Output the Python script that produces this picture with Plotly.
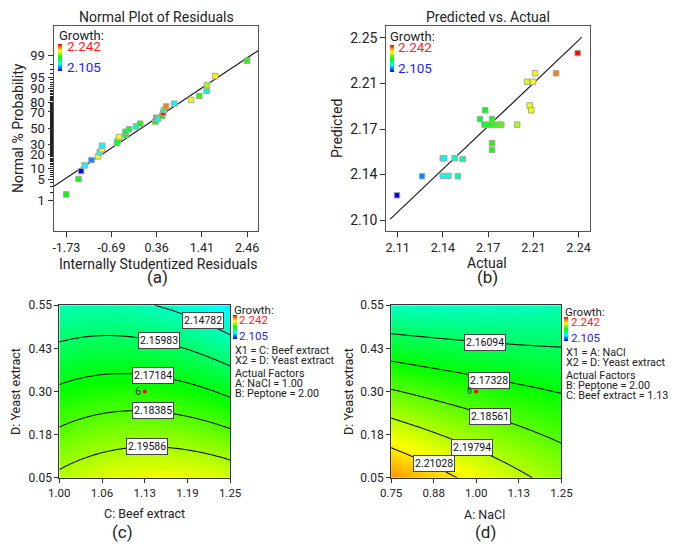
import numpy as np
import plotly.graph_objects as go
from statistics import NormalDist

W, H = 685, 551
FONT = "Roboto"
TXT = "#222222"

# ---------------- data ----------------
growth_min, growth_max = 2.105, 2.242
growth_scale = [[0.0, "#0000ff"], [0.25, "#00ffff"], [0.5, "#00ff00"],
                [0.75, "#ffff00"], [1.0, "#ff0000"]]

# (a) Normal plot of residuals
resid = [-1.734, -1.45, -1.39, -1.31, -1.15, -0.997, -0.96, -0.91, -0.90, -0.56,
         -0.54, -0.51, -0.36, -0.36, -0.28, -0.12, -0.02, 0.33, 0.35, 0.39,
         0.49, 0.51, 0.53, 0.58, 0.77, 1.16, 1.35, 1.52, 1.53, 1.72, 2.457]
resid_prob = [1.7, 5.2, 8.5, 11.7, 15.4, 18.4, 22.1, 25.1, 28.8, 31.9,
              34.5, 39.0, 41.7, 45.6, 48.8, 52.4, 56.0, 58.7, 63.3, 62.2,
              65.5, 69.1, 72.2, 75.8, 78.5, 81.9, 85.1, 88.5, 91.8, 95.3, 98.5]
resid_growth = [2.173, 2.173, 2.105, 2.140, 2.124, 2.207, 2.140, 2.208, 2.140, 2.170,
                2.170, 2.205, 2.170, 2.168, 2.167, 2.148, 2.175, 2.176, 2.228, 2.142,
                2.173, 2.241, 2.153, 2.225, 2.141, 2.206, 2.178, 2.147, 2.196, 2.209, 2.177]
a_line_resid = [-2.03, 2.72]
a_line_prob = [3.1, 99.38]
a_xticks = [-1.734, -0.686, 0.362, 1.409, 2.457]
a_xticktext = ["-1.73", "-0.69", "0.36", "1.41", "2.46"]
a_yticks_pct = [1, 5, 10, 20, 30, 50, 70, 80, 90, 95, 99]
a_minor_pct = list(range(1, 100))

# (b) Predicted vs actual
actual = [2.1045, 2.1235, 2.1392, 2.1403, 2.1482, 2.1542, 2.1392, 2.1435, 2.1506,
          2.1674, 2.1713, 2.1708, 2.1740, 2.1765, 2.1772, 2.1813, 2.1835, 2.1765,
          2.1765, 2.1955, 2.2030, 2.2076, 2.2091, 2.2050, 2.2062, 2.2250, 2.2413]
predicted = [2.1204, 2.1361, 2.1509, 2.1509, 2.1509, 2.1503, 2.1364, 2.1364, 2.1361,
             2.1832, 2.1904, 2.1786, 2.1786, 2.1832, 2.1786, 2.1786, 2.1786, 2.1632,
             2.1578, 2.1786, 2.2139, 2.2139, 2.2209, 2.1944, 2.1904, 2.2209, 2.2375]
b_line_actual = [2.0994, 2.2445]
b_line_pred = [2.1008, 2.2506]
b_xticks = [2.105, 2.13925, 2.1735, 2.20775, 2.242]
b_xticktext = ["2.11", "2.14", "2.17", "2.21", "2.24"]
b_yticks = [2.10, 2.1375, 2.175, 2.2125, 2.25]
b_yticktext = ["2.10", "2.14", "2.17", "2.21", "2.25"]

# (c) Beef extract x Yeast extract contour (coded quadratic model)
c_coef = {"b0": 2.1774, "bX": -0.0021, "bY": -0.02873, "bXY": -0.00437, "bXX": -0.0057, "bYY": 0.0}
c_x_range = [1.00, 1.25]
c_y_range = [0.05, 0.55]
c_levels = [2.14782, 2.15983, 2.17184, 2.18385, 2.19586]
c_label_x = [1.2098, 1.1462, 1.1368, 1.1368, 1.1283]
c_label_y = [0.5056, 0.4473, 0.3471, 0.2444, 0.1406]
c_xticks = [1.0, 1.0625, 1.125, 1.1875, 1.25]
c_xticktext = ["1.00", "1.06", "1.13", "1.19", "1.25"]
yeast_ticks = [0.05, 0.175, 0.30, 0.425, 0.55]
yeast_ticktext = ["0.05", "0.18", "0.30", "0.43", "0.55"]
c_center = [1.125, 0.30]

# (d) NaCl x Yeast extract contour
d_coef = {"b0": 2.1787, "bX": -0.0069, "bY": -0.0298, "bXY": 0.0075, "bXX": 0.001, "bYY": -0.0015}
d_x_range = [0.75, 1.25]
d_y_range = [0.05, 0.55]
d_levels = [2.16094, 2.17328, 2.18561, 2.19794, 2.21028]
d_label_x = [1.0264, 1.0386, 1.0414, 0.9884, 0.876]
d_label_y = [0.4413, 0.3332, 0.2262, 0.139, 0.0903]
d_xticks = [0.75, 0.875, 1.0, 1.125, 1.25]
d_xticktext = ["0.75", "0.88", "1.00", "1.13", "1.25"]
d_center = [1.00, 0.30]

c_legend = ["X1 = C: Beef extract", "X2 = D: Yeast extract", "Actual Factors",
            "A: NaCl = 1.00", "B: Peptone = 2.00"]
d_legend = ["X1 = A: NaCl", "X2 = D: Yeast extract", "Actual Factors",
            "B: Peptone = 2.00", "C: Beef extract = 1.13"]

# ---------------- helpers ----------------
nd = NormalDist()


def probit(p):
    return nd.inv_cdf(p / 100.0)


def surface(coef, xr, yr, n=121):
    xs = np.linspace(xr[0], xr[1], n)
    ys = np.linspace(yr[0], yr[1], n)
    X, Y = np.meshgrid(xs, ys)
    u = (X - (xr[0] + xr[1]) / 2) / ((xr[1] - xr[0]) / 2)
    v = (Y - (yr[0] + yr[1]) / 2) / ((yr[1] - yr[0]) / 2)
    Z = (coef["b0"] + coef["bX"] * u + coef["bY"] * v + coef["bXY"] * u * v
         + coef["bXX"] * u ** 2 + coef["bYY"] * v ** 2)
    return xs, ys, Z


def px(X):
    return X / W


def py(Y):
    return 1 - Y / H


annotations = []


def ann(text, X, Y, size, color=TXT, xanchor="left", yanchor="middle"):
    annotations.append(dict(text=text, x=px(X), y=py(Y), xref="paper", yref="paper",
                            showarrow=False, xanchor=xanchor, yanchor=yanchor,
                            font=dict(family=FONT, size=size, color=color)))


def colorbar(X, Y, length):
    return dict(x=px(X), y=py(Y), xanchor="left", yanchor="top", lenmode="pixels",
                len=length, thickness=4, xpad=0, ypad=0, outlinewidth=0,
                showticklabels=False, ticks="")


fig = go.Figure()

# (a)
fig.add_trace(go.Scatter(x=a_line_resid, y=[probit(p) for p in a_line_prob], mode="lines",
                         line=dict(color="#222", width=1.2), xaxis="x", yaxis="y",
                         showlegend=False, hoverinfo="skip"))
fig.add_trace(go.Scatter(x=resid, y=[probit(p) for p in resid_prob], mode="markers",
                         marker=dict(symbol="square", size=5.5, color=resid_growth, coloraxis="coloraxis",
                                     line=dict(color="#a8a8a8", width=1)),
                         xaxis="x", yaxis="y", showlegend=False))

# (b)
fig.add_trace(go.Scatter(x=b_line_actual, y=b_line_pred, mode="lines",
                         line=dict(color="#222", width=1.2), xaxis="x2", yaxis="y2",
                         showlegend=False, hoverinfo="skip"))
fig.add_trace(go.Scatter(x=actual, y=predicted, mode="markers",
                         marker=dict(symbol="square", size=5.5, color=actual, coloraxis="coloraxis2",
                                     line=dict(color="#a8a8a8", width=1)),
                         xaxis="x2", yaxis="y2", showlegend=False))

# (c), (d)
for (coef, xr, yr, levels, xa, ya, cax_name, center) in [
        (c_coef, c_x_range, c_y_range, c_levels, "x3", "y3", "coloraxis3", c_center),
        (d_coef, d_x_range, d_y_range, d_levels, "x4", "y4", "coloraxis4", d_center)]:
    xs, ys, Z = surface(coef, xr, yr)
    step = levels[1] - levels[0]
    fig.add_trace(go.Contour(x=xs, y=ys, z=Z, coloraxis=cax_name,
                             contours=dict(start=levels[0], end=levels[-1] + step * 0.01, size=step,
                                           coloring="heatmap", showlabels=False),
                             line=dict(color="#111", width=1.1, smoothing=1),
                             xaxis=xa, yaxis=ya, showlegend=False, hoverinfo="skip"))
    fig.add_trace(go.Scatter(x=[center[0]], y=[center[1]], mode="markers",
                             marker=dict(color="#ff0000", size=4), xaxis=xa, yaxis=ya,
                             showlegend=False))

for lvls, lx, ly, xa, ya in [(c_levels, c_label_x, c_label_y, "x3", "y3"),
                             (d_levels, d_label_x, d_label_y, "x4", "y4")]:
    for v, x, y in zip(lvls, lx, ly):
        annotations.append(dict(text=f"{v:.5f}", x=x, y=y, xref=xa, yref=ya, showarrow=False,
                                bgcolor="white", bordercolor="#444", borderwidth=1, borderpad=1,
                                font=dict(family=FONT, size=10.5, color="#111")))

annotations.append(dict(text="6", x=c_center[0], y=c_center[1], xref="x3", yref="y3",
                        showarrow=False, xanchor="right", xshift=-2,
                        font=dict(family=FONT, size=11, color="#1e3d1e")))
annotations.append(dict(text="6", x=d_center[0], y=d_center[1], xref="x4", yref="y4",
                        showarrow=False, xanchor="right", xshift=-2,
                        font=dict(family=FONT, size=9, color="#1e3d1e")))

# ---------------- axes ----------------
frame = dict(showline=True, mirror=True, linecolor="#555", linewidth=1, showgrid=False,
             zeroline=False, ticks="outside", tickcolor="#333", ticklen=5)


def ytitle(text, size, standoff):
    return dict(text=text, font=dict(family=FONT, size=size, color=TXT), standoff=standoff)


ax_a_x = dict(frame, domain=[px(44), px(256)], range=[-2.03, 2.72], tickmode="array",
              tickvals=a_xticks, ticktext=a_xticktext, anchor="y",
              tickfont=dict(family=FONT, size=12.5, color=TXT))
ax_a_y = dict(frame, domain=[py(230), py(19)], range=[-3.3, 3.3], tickmode="array",
              tickvals=[probit(p) for p in a_yticks_pct], ticktext=[str(p) for p in a_yticks_pct],
              anchor="x", tickfont=dict(family=FONT, size=13, color=TXT),
              title=ytitle("Normal % Probability", 14, 3),
              minor=dict(tickmode="array", tickvals=[probit(p) for p in a_minor_pct],
                         ticks="outside", ticklen=3, tickcolor="#222", tickwidth=1))
ax_b_x = dict(frame, domain=[px(388.3), px(599.3)], range=[2.0964, 2.2508], tickmode="array",
              tickvals=b_xticks, ticktext=b_xticktext, anchor="y2",
              tickfont=dict(family=FONT, size=12.5, color=TXT))
ax_b_y = dict(frame, domain=[py(230), py(19)], range=[2.0909, 2.2602], tickmode="array",
              tickvals=b_yticks, ticktext=b_yticktext, anchor="x2",
              tickfont=dict(family=FONT, size=14, color=TXT),
              title=ytitle("Predicted", 14, 4))
frame_c = dict(frame, linecolor="#333", ticklen=4)
ax_c_x = dict(frame_c, domain=[px(50), px(226.7)], range=c_x_range, tickmode="array",
              tickvals=c_xticks, ticktext=c_xticktext, anchor="y3",
              tickfont=dict(family=FONT, size=11.5, color=TXT))
ax_c_y = dict(frame_c, domain=[py(483), py(306)], range=c_y_range, tickmode="array",
              tickvals=yeast_ticks, ticktext=yeast_ticktext, anchor="x3",
              tickfont=dict(family=FONT, size=12, color=TXT),
              title=ytitle("D: Yeast extract", 12.5, 5))
ax_d_x = dict(frame_c, domain=[px(393.3), px(569.5)], range=d_x_range, tickmode="array",
              tickvals=d_xticks, ticktext=d_xticktext, anchor="y4",
              tickfont=dict(family=FONT, size=11.5, color=TXT))
ax_d_y = dict(frame_c, domain=[py(483), py(306)], range=d_y_range, tickmode="array",
              tickvals=yeast_ticks, ticktext=yeast_ticktext, anchor="x4",
              tickfont=dict(family=FONT, size=12, color=TXT),
              title=ytitle("D: Yeast extract", 12.5, 3))


def cax(X, Y, length):
    return dict(cmin=growth_min, cmax=growth_max, colorscale=growth_scale,
                colorbar=colorbar(X, Y, length))


# ---------------- text ----------------
ann("Normal Plot of Residuals", 150.7, 10, 14, xanchor="center")
ann("Predicted vs. Actual", 493.3, 10, 14, xanchor="center")
ann("Internally Studentized Residuals", 152, 264, 14, xanchor="center")
ann("Actual", 493, 263, 14, xanchor="center")
ann("C: Beef extract", 138.3, 520, 12.5, xanchor="center")
ann("A: NaCl", 490, 520.5, 12.5, xanchor="center")
ann("(a)", 151.7, 277.5, 17, xanchor="center")
ann("(b)", 493, 277.5, 17, xanchor="center")
ann("(c)", 115, 538.5, 17, xanchor="center")
ann("(d)", 491, 539, 17, xanchor="center")

RED, BLUE = "#ff2222", "#2222ff"
for gx, gy in [(47.5, 28.8), (390.5, 30)]:
    ann("Growth:", gx, gy, 13)
    ann("2.242", gx + 8, gy + 11, 13.5, color=RED)
    ann("2.105", gx + 8, gy + 32.5, 13.5, color=BLUE)

for lx, ly, lines in [(228.5, 310.5, c_legend), (571.5, 312.5, d_legend)]:
    ann("Growth:", lx, ly, 11.5)
    ann("2.242", lx + 5.5, ly + 10.5, 11.5, color=RED)
    ann("2.105", lx + 5.5, ly + 27.5, 11.5, color=BLUE)
    offs = [42, 52.5, 66, 76, 86.3]
    for t, o in zip(lines, offs):
        ann(t, lx + 1, ly + o, 10.8)

fig.update_layout(
    width=W, height=H, margin=dict(l=0, r=0, t=0, b=0),
    paper_bgcolor="white", plot_bgcolor="white",
    font=dict(family=FONT, color=TXT),
    xaxis=ax_a_x, yaxis=ax_a_y, xaxis2=ax_b_x, yaxis2=ax_b_y,
    xaxis3=ax_c_x, yaxis3=ax_c_y, xaxis4=ax_d_x, yaxis4=ax_d_y,
    coloraxis=cax(48.7, 37.7, 26.5),
    coloraxis2=cax(392, 38.5, 26.5),
    coloraxis3=cax(229.5, 316, 23.5),
    coloraxis4=cax(572.5, 318.5, 23.5),
    annotations=annotations,
)

fig.write_html("out.html", config={"displayModeBar": False},
               post_script="document.body.style.margin='0';document.body.style.padding='0';")
